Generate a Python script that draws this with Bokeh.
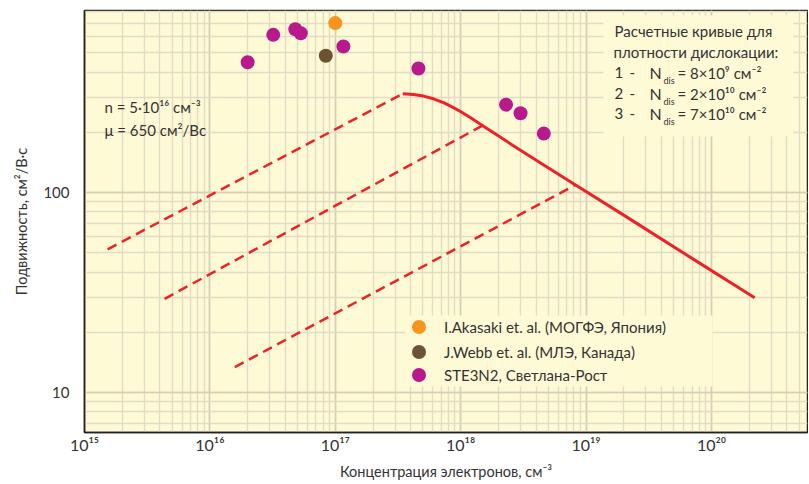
import math
from bokeh.plotting import figure
from bokeh.models import Range1d, Label, BoxAnnotation, Legend, LegendItem
from bokeh.embed import file_html
from bokeh.resources import INLINE

# ---------------- data ----------------
akasaki_n = [1.0e17]
akasaki_mu = [703]
webb_n = [8.4e16]
webb_mu = [483]
ste_n = [2.0e16, 3.2e16, 4.8e16, 5.3e16, 1.16e17, 4.6e17, 2.3e18, 3.0e18, 4.6e18]
ste_mu = [448, 614, 655, 626, 537, 417, 275, 249, 197]

calc_n = [3.45e17, 4.2e17, 5.05e17, 6.07e17, 7.29e17, 8.6e17, 9.96e17, 1.2e18, 1.53e18,
          2.08e18, 2.65e18, 4.9e18, 9.0e18, 2.13e19, 7.2e19, 2.21e20]
calc_mu = [311.6, 309.0, 303.4, 294.1, 281.5, 267.3, 254.1, 236.6, 214.0,
           188.8, 170.8, 133.8, 105.4, 75.1, 46.3, 29.8]

dis1_n = [1.53e15, 3.45e17]
dis1_mu = [52, 311.6]
dis2_n = [4.35e15, 1.49e18]
dis2_mu = [29.4, 216]
dis3_n = [1.58e16, 8.2e18]
dis3_mu = [13.4, 109]

x_ticks = [1e15, 1e16, 1e17, 1e18, 1e19, 1e20]
x_tick_labels = ["10¹⁵", "10¹⁶", "10¹⁷", "10¹⁸", "10¹⁹", "10²⁰"]
y_ticks = [10, 100]
y_tick_labels = ["10", "100"]

legend_labels = ["I.Akasaki et. al. (МОГФЭ, Япония)",
                 "J.Webb et. al. (МЛЭ, Канада)",
                 "STE3N2, Светлана-Рост"]

curve_ids = ["1", "2", "3"]
curve_ndis = ["= 8×10⁹ см⁻²", "= 2×10¹⁰ см⁻²", "= 7×10¹⁰ см⁻²"]

# ---------------- style ----------------
BG = "#fefad6"
GRID_MAJ = "#d6cfb6"
GRID_MIN = "#e2dcc4"
RED = "#ec2229"
ORANGE = "#f7941e"
BROWN = "#6b5334"
MAGENTA = "#b8198c"
TXT = "#333333"
FONT = "Lato"

W, H = 808, 483
FL, FR, FT, FB = 84, W - 1, 10, 432  # frame in page px
XMIN, XMAX = 1e15, 10 ** (15 + (FR - FL) / 125.4)
YMIN, YMAX = 10 ** (2 - (FB - 192) / 200), 10 ** (2 + (192 - FT) / 200)


def px_x(px):
    lo, hi = math.log10(XMIN), math.log10(XMAX)
    return 10 ** (lo + (px - FL) / (FR - FL) * (hi - lo))


def px_y(py):
    lo, hi = math.log10(YMIN), math.log10(YMAX)
    return 10 ** (lo + (FB - py) / (FB - FT) * (hi - lo))


p = figure(width=W, height=H, x_axis_type="log", y_axis_type="log",
           x_range=Range1d(XMIN, XMAX), y_range=Range1d(YMIN, YMAX),
           output_backend="svg", toolbar_location=None,
           min_border_left=FL, min_border_right=W - FR,
           min_border_top=FT, min_border_bottom=H - FB)
p.background_fill_color = BG
p.border_fill_color = "white"
p.outline_line_color = "#222222"
p.outline_line_width = 1.5

for ax in (p.xaxis[0], p.yaxis[0]):
    ax.major_tick_line_color = None
    ax.minor_tick_line_color = None
    ax.major_tick_out = 0
    ax.major_tick_in = 0
    ax.minor_tick_out = 0
    ax.minor_tick_in = 0
    ax.axis_line_color = "#222222"
    ax.axis_line_width = 1.5
    ax.major_label_text_font = FONT
    ax.major_label_text_font_size = "15px"
    ax.major_label_text_color = TXT
    ax.axis_label_text_font = FONT
    ax.axis_label_text_font_size = "14.5px"
    ax.axis_label_text_font_style = "normal"
    ax.axis_label_text_color = TXT

p.xaxis.major_label_text_font_size = "16px"
p.xaxis.major_label_overrides = {t: l for t, l in zip(x_ticks, x_tick_labels)}
p.yaxis.major_label_overrides = {t: l for t, l in zip(y_ticks, y_tick_labels)}
p.xaxis.major_label_standoff = 2
p.yaxis.major_label_standoff = 15
p.xaxis.axis_label = "Концентрация электронов, см⁻³"
p.yaxis.axis_label = "Подвижность, см²/В·с"
p.xaxis.axis_label_standoff = 6
p.yaxis.axis_label_standoff = 10

for g in (p.xgrid[0], p.ygrid[0]):
    g.grid_line_color = GRID_MAJ
    g.grid_line_width = 1.6
    g.minor_grid_line_color = GRID_MIN
    g.minor_grid_line_width = 1.4

# lines
for xs, ys in ((dis1_n, dis1_mu), (dis2_n, dis2_mu), (dis3_n, dis3_mu)):
    p.line(xs, ys, line_color=RED, line_width=2.5, line_dash="10 6")
p.line(calc_n, calc_mu, line_color=RED, line_width=3, line_join="round")

r_ak = p.scatter(akasaki_n, akasaki_mu, size=14, fill_color=ORANGE, line_color=None)
r_wb = p.scatter(webb_n, webb_mu, size=14, fill_color=BROWN, line_color=None)
r_st = p.scatter(ste_n, ste_mu, size=14, fill_color=MAGENTA, line_color=None)

# background boxes for the two text blocks
p.add_layout(BoxAnnotation(left=px_x(603), right=px_x(793), top=px_y(15), bottom=px_y(136),
                           fill_color=BG, fill_alpha=1, line_alpha=0))
p.add_layout(BoxAnnotation(left=px_x(405), right=px_x(712), top=px_y(315), bottom=px_y(386),
                           fill_color=BG, fill_alpha=1, line_alpha=0))


def lab(px, py, text, size="15px", align="left"):
    p.add_layout(Label(x=px_x(px), y=px_y(py), text=text, text_font=FONT,
                       text_font_size=size, text_color=TXT, text_baseline="middle",
                       text_align=align))


lab(104, 106, "n = 5·10¹⁶ см⁻³")
lab(104, 129, "μ = 650 см²/Вс")

lab(614, 30, "Расчетные кривые для")
lab(613, 51, "плотности дислокации:")
for yy, cid, nd in zip((72, 93, 113), curve_ids, curve_ndis):
    lab(614, yy, cid)
    lab(629, yy, "-")
    lab(649, yy, "N", size="16px")
    lab(663, yy + 8, "dis", size="9px")
    lab(677, yy, nd)

# legend: one entry per Legend so that the row pitch matches the reference
for i, (r, y_loc) in enumerate(((r_ak, 88), (r_wb, 63), (r_st, 40))):
    lg = Legend(items=[LegendItem(label=legend_labels[i], renderers=[r])],
                location=(317, y_loc), margin=0, padding=0,
                glyph_width=35, glyph_height=35, label_standoff=8,
                label_text_font=FONT, label_text_font_size="15px", label_text_color=TXT,
                background_fill_alpha=0, border_line_color=None)
    p.add_layout(lg)

open("out.html", "w").write(file_html(p, INLINE))
